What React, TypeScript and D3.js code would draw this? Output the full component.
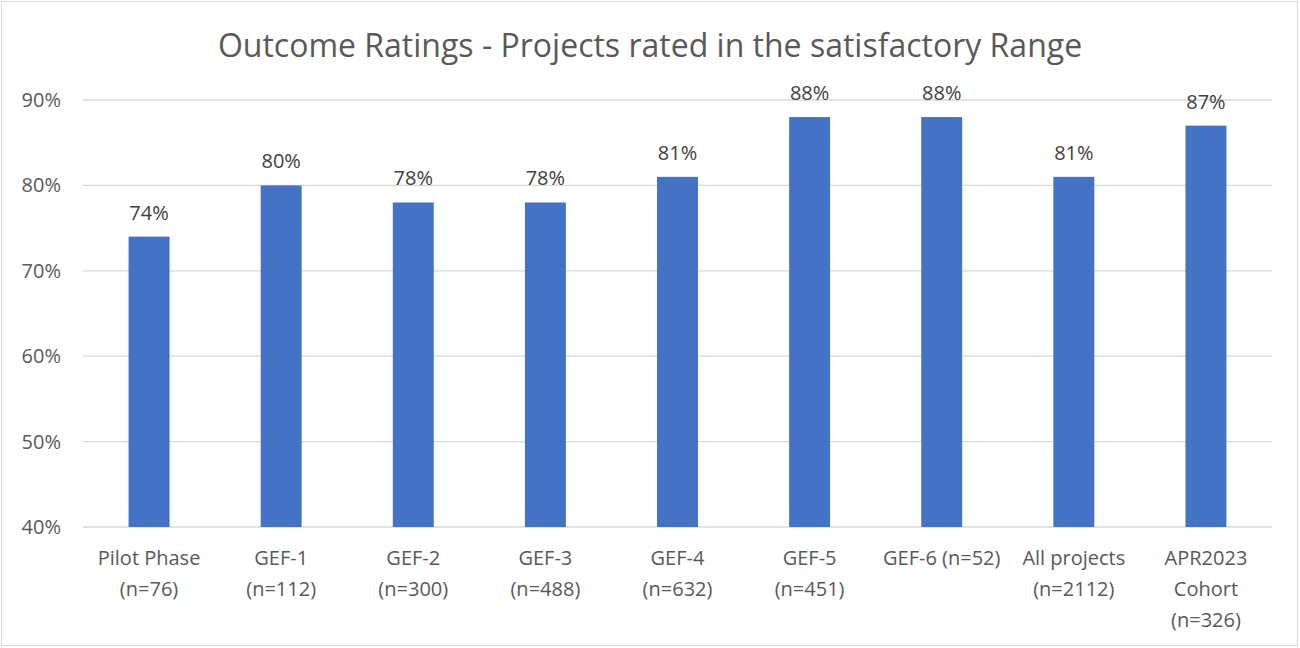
import React, { useEffect, useRef } from 'react';
import * as d3 from 'd3';

const categories = [
  ['Pilot Phase', '(n=76)'],
  ['GEF-1', '(n=112)'],
  ['GEF-2', '(n=300)'],
  ['GEF-3', '(n=488)'],
  ['GEF-4', '(n=632)'],
  ['GEF-5', '(n=451)'],
  ['GEF-6 (n=52)'],
  ['All projects', '(n=2112)'],
  ['APR2023', 'Cohort', '(n=326)'],
];
const values = [74, 80, 78, 78, 81, 88, 88, 81, 87];
const yTicks = [40, 50, 60, 70, 80, 90];
const title = 'Outcome Ratings - Projects rated in the satisfactory Range';

function App() {
  const svgRef = useRef<SVGSVGElement>(null);

  useEffect(() => {
    const svg = d3.select(svgRef.current);
    svg.selectAll('*').remove();

    const width = 1300;
    const height = 648;
    const margin = { top: 100, right: 28, bottom: 121, left: 83 };
    const font = 'Open Sans, sans-serif';

    // outer frame
    svg.append('rect')
      .attr('x', 1.5).attr('y', 1.5)
      .attr('width', width - 4).attr('height', height - 4)
      .attr('fill', '#fff')
      .attr('stroke', '#d9d9d9');

    const x = d3.scaleBand()
      .domain(categories.map((_, i) => String(i)))
      .range([margin.left, width - margin.right]);
    const y = d3.scaleLinear().domain([40, 90]).range([height - margin.bottom, margin.top]);

    // gridlines
    svg.append('g')
      .selectAll('line')
      .data(yTicks)
      .enter()
      .append('line')
      .attr('x1', margin.left)
      .attr('x2', width - margin.right)
      .attr('y1', d => y(d))
      .attr('y2', d => y(d))
      .attr('stroke', '#d9d9d9')
      .attr('stroke-width', 1.3);

    // y tick labels
    svg.append('g')
      .selectAll('text')
      .data(yTicks)
      .enter()
      .append('text')
      .attr('x', 61)
      .attr('y', d => y(d))
      .attr('dy', '0.35em')
      .attr('text-anchor', 'end')
      .style('font-family', font)
      .style('font-size', '20px')
      .style('fill', '#595959')
      .text(d => d + '%');

    const barW = x.bandwidth() * 0.31;

    svg.append('g')
      .selectAll('rect')
      .data(values)
      .enter()
      .append('rect')
      .attr('x', (_, i) => x(String(i))! + (x.bandwidth() - barW) / 2)
      .attr('y', d => y(d))
      .attr('width', barW)
      .attr('height', d => y(40) - y(d))
      .attr('fill', '#4472c4');

    // value labels
    svg.append('g')
      .selectAll('text')
      .data(values)
      .enter()
      .append('text')
      .attr('x', (_, i) => x(String(i))! + x.bandwidth() / 2)
      .attr('y', d => y(d) - 17)
      .attr('text-anchor', 'middle')
      .style('font-family', font)
      .style('font-size', '20px')
      .style('fill', '#404040')
      .text(d => d + '%');

    // x category labels
    const xl = svg.append('g');
    categories.forEach((lines, i) => {
      const t = xl.append('text')
        .attr('text-anchor', 'middle')
        .style('font-family', font)
        .style('font-size', '20px')
        .style('fill', '#595959');
      lines.forEach((ln, j) => {
        t.append('tspan')
          .attr('x', x(String(i))! + x.bandwidth() / 2)
          .attr('y', height - margin.bottom + 38 + j * 31)
          .text(ln);
      });
    });

    // title
    svg.append('text')
      .attr('x', width / 2)
      .attr('y', 57)
      .attr('text-anchor', 'middle')
      .style('font-family', font)
      .style('font-size', '32px')
      .style('fill', '#595959')
      .text(title);
  }, []);

  return (
    <svg ref={svgRef} width={1300} height={648}
      style={{ position: 'absolute', left: 0, top: 0, display: 'block' }} />
  );
}

export default App;
